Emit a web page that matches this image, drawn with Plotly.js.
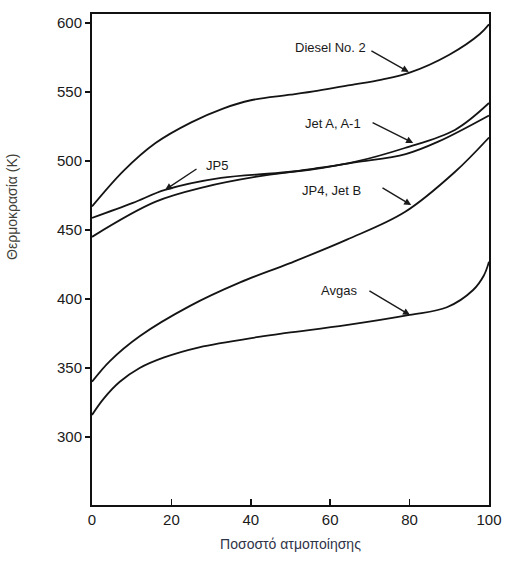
<!DOCTYPE html>
<html>
<head>
<meta charset="utf-8">
<script src="https://cdn.plot.ly/plotly-3.0.1.min.js"></script>
<style>html,body{margin:0;padding:0;background:#fff;}#chart{width:509px;height:564px;}</style>
</head>
<body>
<div id="chart"></div>
<script>
// Percent vaporized (x) and temperature in K (y)
const dieselX = [0, 8, 16, 25, 33, 40, 50, 57, 65, 73, 80, 90, 97.7, 100];
const dieselY = [467, 493, 513, 528, 538, 544, 548, 551, 555, 559, 564, 577, 592, 599];

const jp5X = [0, 10.3, 18.4, 32.5, 49.4, 66.2, 79, 87.2, 100];
const jp5Y = [458.7, 469.6, 479, 487.7, 492, 499, 505, 514, 533];

const jetAX = [0, 15.9, 28.5, 41.1, 57.7, 66.2, 78.8, 91.4, 100];
const jetAY = [445, 470.3, 481.2, 488.4, 494.9, 499.3, 509.4, 522.5, 542];

const jp4X = [0, 4.5, 12, 24.7, 37.3, 49.9, 64.2, 78.8, 91.4, 100];
const jp4Y = [340, 355, 373, 395, 412, 426, 443, 463, 492, 517];

const avgasX = [0, 3, 7, 12, 18, 27, 42, 49, 64, 80, 89.4, 96, 98.7, 100];
const avgasY = [316, 328, 340, 350, 357.5, 365, 372.5, 375.4, 381, 388.4, 394, 406.5, 417, 427];

const xTicks = [0, 20, 40, 60, 80, 100];
const yTicks = [300, 350, 400, 450, 500, 550, 600];

// Curve labels and their arrows
const labelText = ["Diesel No. 2", "Jet A, A-1", "JP5", "JP4, Jet B", "Avgas"];
const labelX = [69.5, 68.3, 28.2, 68.3, 67.3];
const labelY = [582, 527.5, 496.5, 478.3, 406.5];
const labelAnchor = ["right", "right", "left", "right", "right"];
const arrowTailX = [70.0, 70.3, 26.7, 72.8, 69.5];
const arrowTailY = [580.4, 528.3, 494.9, 481.2, 406.5];
const arrowTipX = [79.8, 80.9, 18.4, 80.4, 80.1];
const arrowTipY = [564.5, 513.0, 479.0, 468.1, 388.4];

const lineStyle = {color: '#141414', width: 1.8, shape: 'spline', smoothing: 1};
const series = [[dieselX, dieselY, "Diesel No. 2"], [jp5X, jp5Y, "JP5"], [jetAX, jetAY, "Jet A, A-1"],
                [jp4X, jp4Y, "JP4, Jet B"], [avgasX, avgasY, "Avgas"]];
const traces = series.map(s => ({
  x: s[0], y: s[1], type: 'scatter', mode: 'lines',
  line: lineStyle, name: s[2], hoverinfo: 'x+y'
}));

const annotations = [];
for (let i = 0; i < labelText.length; i++) {
  annotations.push({
    x: labelX[i], y: labelY[i], xref: 'x', yref: 'y', text: labelText[i],
    showarrow: false, xanchor: labelAnchor[i], yanchor: 'middle',
    font: {family: 'Liberation Sans, Arial, sans-serif', size: 13, color: '#1a1a1a'}
  });
  annotations.push({
    x: arrowTipX[i], y: arrowTipY[i], ax: arrowTailX[i], ay: arrowTailY[i],
    xref: 'x', yref: 'y', axref: 'x', ayref: 'y', text: '',
    showarrow: true, arrowhead: 2, arrowsize: 1, arrowwidth: 1.4, arrowcolor: '#1a1a1a'
  });
}
annotations.push({
  x: -0.2015, y: 0.607, xref: 'paper', yref: 'paper', text: 'Θερμοκρασία (K)',
  textangle: -90, showarrow: false, xanchor: 'center', yanchor: 'middle',
  font: {family: 'Liberation Sans, Arial, sans-serif', size: 14, color: '#3f3f38'}
});

const axisCommon = {
  showline: true, mirror: true, linecolor: '#111', linewidth: 2,
  showgrid: false, zeroline: false,
  tickfont: {family: 'Liberation Sans, Arial, sans-serif', size: 15, color: '#1a1a1a'},
  tickcolor: '#111', tickwidth: 1.5
};

const layout = {
  width: 509, height: 564,
  margin: {l: 92, r: 20, t: 14, b: 59},
  paper_bgcolor: '#fff', plot_bgcolor: '#fff',
  showlegend: false,
  xaxis: Object.assign({}, axisCommon, {
    range: [0, 100], tickvals: xTicks, ticktext: xTicks.map(String),
    ticks: 'inside', ticklen: 6,
    title: {text: 'Ποσοστό ατμοποίησης', standoff: 12,
      font: {family: 'Liberation Sans, Arial, sans-serif', size: 14, color: '#2f3348'}}
  }),
  yaxis: Object.assign({}, axisCommon, {
    range: [250.7, 606.5], tickvals: yTicks, ticktext: yTicks.map(String),
    ticks: 'outside', ticklen: 5
  }),
  annotations: annotations
};

Plotly.newPlot('chart', traces, layout, {displayModeBar: false, staticPlot: true});
</script>
</body>
</html>
